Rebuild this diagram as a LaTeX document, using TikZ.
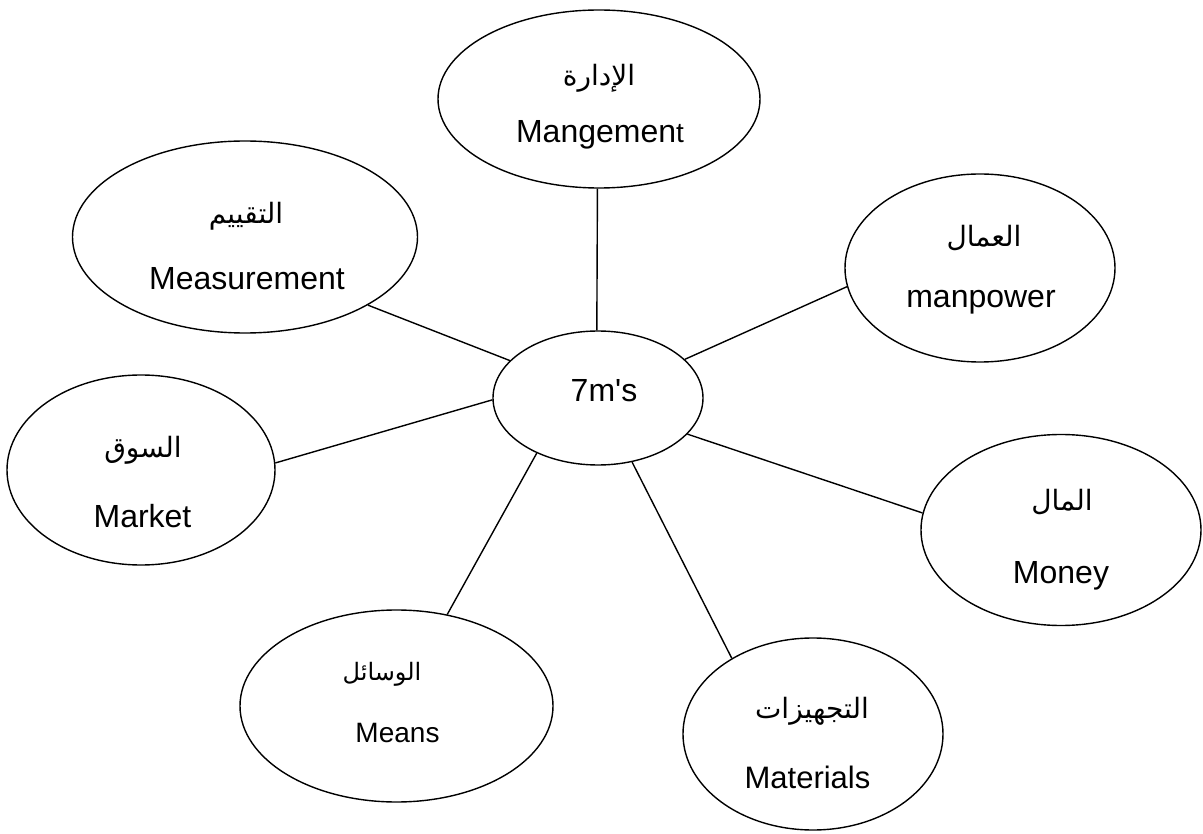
\documentclass[tikz,border=0pt]{standalone}
\usepackage{fontspec}
\setmainfont{Liberation Sans}
\newfontfamily\plainsans{Liberation Sans}
\newfontfamily\arabicfont[Script=Arabic]{DejaVu Sans}
\TeXXeTstate=1
\usetikzlibrary{shapes.geometric}
\tikzset{
  bubble/.style={draw, ellipse, line width=1.4pt, inner sep=0pt},
  link/.style={line width=1.4pt},
  en/.style={font=\fontsize{32}{36}\selectfont, inner sep=0pt, anchor=base},
  ensmall/.style={font=\fontsize{28}{32}\selectfont, inner sep=0pt, anchor=base},
  ar/.style={font=\arabicfont\fontsize{28}{32}\selectfont, inner sep=0pt, anchor=center},
  arsmall/.style={font=\arabicfont\fontsize{24}{28}\selectfont, inner sep=0pt, anchor=center},
}
\begin{document}
\begin{tikzpicture}[x=1pt,y=-1pt]
\fill[white] (0,0) rectangle (1203,834);
\useasboundingbox (0,0) rectangle (1203,834);
% ellipses
\node[bubble, minimum width=210pt, minimum height=134pt] (c) at (598,398) {};
\node[bubble, minimum width=322pt, minimum height=178pt] (mgmt) at (599,99) {};
\node[bubble, minimum width=345pt, minimum height=192pt] (meas) at (245,237) {};
\node[bubble, minimum width=270pt, minimum height=188pt] (manp) at (980,268) {};
\node[bubble, minimum width=268pt, minimum height=190pt] (mark) at (141,470) {};
\node[bubble, minimum width=280pt, minimum height=191pt] (money) at (1061,530) {};
\node[bubble, minimum width=313pt, minimum height=192pt] (means) at (396.5,706) {};
\node[bubble, minimum width=260pt, minimum height=192pt] (mat) at (813,734) {};
% connectors
\draw[link] (c.91) -- (mgmt.269);
\draw[link] (c.157) -- (meas.-29);
\draw[link] (c.181) -- (mark.3);
\draw[link] (c.24) -- (manp.188);
\draw[link] (c.-22) -- (money.173);
\draw[link] (c.222) -- (means.61);
\draw[link] (c.-62) -- (mat.137);
% texts
\node[en, font=\plainsans\fontsize{32}{36}\selectfont] (ctext) at (604,402) {7m's};
\node[ar] (mgmtAr) at (599,78) {\beginR الإدارة\endR};
\node[en] (mgmtEn) at (600,143) {Mangemen{\fontsize{28}{32}\selectfont t}};
\node[ar] (measAr) at (246,216) {\beginR التقييم\endR};
\node[en] (measEn) at (247,290) {Measurement};
\node[ar] (manpAr) at (984,238) {\beginR العمال\endR};
\node[en] (manpEn) at (981,308) {manpower};
\node[ar] (markAr) at (143,450) {\beginR السوق\endR};
\node[en] (markEn) at (142.5,527) {Market};
\node[ar] (moneyAr) at (1062,502) {\beginR المال\endR};
\node[en] (moneyEn) at (1061,583) {Money};
\node[arsmall] (meansAr) at (382,674) {\beginR الوسائل\endR};
\node[ensmall] (meansEn) at (397.5,742) {Means};
\node[ar] (matAr) at (812,711) {\beginR التجهيزات\endR};
\node[en, font=\fontsize{31}{35}\selectfont] (matEn) at (807.5,788) {Materials};
\end{tikzpicture}
\end{document}
